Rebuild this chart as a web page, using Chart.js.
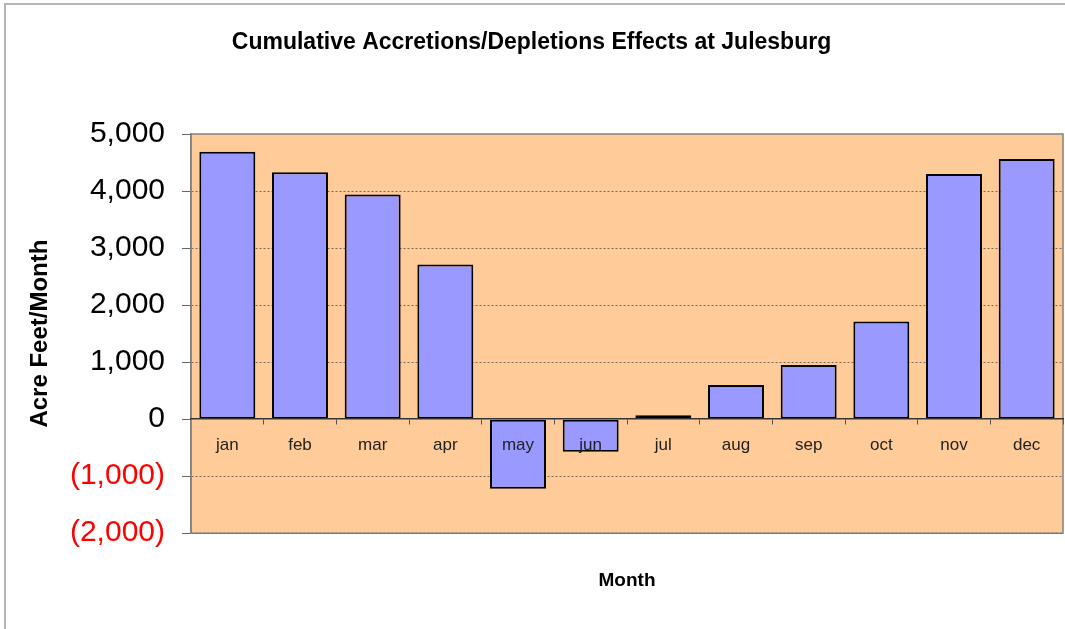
<!DOCTYPE html>
<html>
<head>
<meta charset="utf-8">
<title>Cumulative Accretions/Depletions Effects at Julesburg</title>
<script src="https://cdn.jsdelivr.net/npm/chart.js@4.4.1/dist/chart.umd.min.js"></script>
<style>
  html, body { margin: 0; padding: 0; background: #fff; }
  #wrap { position: relative; width: 1065px; height: 629px; }
</style>
</head>
<body>
<div id="wrap"><canvas id="julesburg_graph" width="1065" height="629"></canvas></div>
<script>
var months = ["jan", "feb", "mar", "apr", "may", "jun", "jul", "aug", "sep", "oct", "nov", "dec"];
var acreFeet = [4690, 4330, 3940, 2710, -1220, -570, 70, 600, 950, 1710, 4300, 4560];
var yTicks = [5000, 4000, 3000, 2000, 1000, 0, -1000, -2000];

var sans = '"Liberation Sans", Arial, sans-serif';

// tan plot background, grey frame, and the page border lines
var plotBackground = {
    id: 'plotBackground',
    beforeDraw: function (chart) {
        var a = chart.chartArea, c = chart.ctx;
        c.save();
        c.strokeStyle = '#b5b5b5';
        c.lineWidth = 2;
        c.beginPath();
        c.moveTo(5, 629);
        c.lineTo(5, 4);
        c.lineTo(1065, 4);
        c.stroke();
        c.fillStyle = '#FFCC99';
        c.fillRect(a.left, a.top, a.right - a.left, a.bottom - a.top);
        c.strokeStyle = '#808080';
        c.lineWidth = 1.5;
        c.strokeRect(a.left, a.top, a.right - a.left, a.bottom - a.top);
        c.restore();
    }
};

function fmt(v) {
    var s = Math.abs(v).toLocaleString('en-US');
    return v < 0 ? '(' + s + ')' : s;
}

var config = {
    type: 'bar',
    data: {
        labels: months,
        datasets: [{
            data: acreFeet,
            backgroundColor: '#9999FF',
            borderColor: '#000000',
            borderWidth: 2,
            borderSkipped: false,
            barPercentage: 0.77,
            categoryPercentage: 1.0
        }]
    },
    options: {
        responsive: false,
        animation: false,
        layout: { padding: { left: 0, right: 2, top: 0, bottom: 0 } },
        plugins: {
            legend: { display: false },
            tooltip: { enabled: false },
            title: {
                display: true,
                text: 'Cumulative Accretions/Depletions Effects at Julesburg',
                color: '#000',
                font: { family: sans, size: 23, weight: 'bold' },
                padding: { top: 29, bottom: 77.4 }
            },
            subtitle: {
                display: true,
                position: 'bottom',
                fullSize: false,
                text: 'Month',
                color: '#000',
                font: { family: sans, size: 19, weight: 'bold' },
                padding: { top: 36, bottom: 37 }
            }
        },
        scales: {
            x: {
                position: { y: 0 },
                offset: true,
                grid: {
                    offset: true,
                    drawOnChartArea: false,
                    drawTicks: true,
                    tickLength: 5,
                    tickColor: '#555'
                },
                border: { display: true, color: '#333', width: 1.5, z: 1 },
                ticks: {
                    z: 1,
                    color: '#222',
                    font: { family: sans, size: 17 },
                    padding: 11,
                    maxRotation: 0
                }
            },
            y: {
                min: -2000,
                max: 5000,
                afterFit: function (scale) { scale.width = 191; },
                afterBuildTicks: function (scale) {
                    scale.ticks = yTicks.map(function (v) { return { value: v }; });
                },
                grid: {
                    color: function (ctx) {
                        var v = ctx.tick && ctx.tick.value;
                        return (v === 0 || v === 5000) ? 'rgba(0,0,0,0)' : '#7a6a5c';
                    },
                    lineWidth: 1,
                    tickLength: 9,
                    tickColor: '#666',
                    tickBorderDash: []
                },
                border: { display: true, color: '#808080', width: 1.5, dash: [2, 2] },
                ticks: {
                    padding: 17,
                    font: { family: sans, size: 30 },
                    color: function (ctx) { return ctx.tick.value < 0 ? '#FF0000' : '#000'; },
                    callback: function (v) { return fmt(v); }
                },
                title: {
                    display: true,
                    text: 'Acre Feet/Month',
                    color: '#000',
                    font: { family: sans, size: 24, weight: 'bold' },
                    padding: { top: 26, bottom: 0 }
                }
            }
        }
    },
    plugins: [plotBackground]
};

var ctx = document.getElementById("julesburg_graph").getContext("2d");
new Chart(ctx, config);
</script>
</body>
</html>
